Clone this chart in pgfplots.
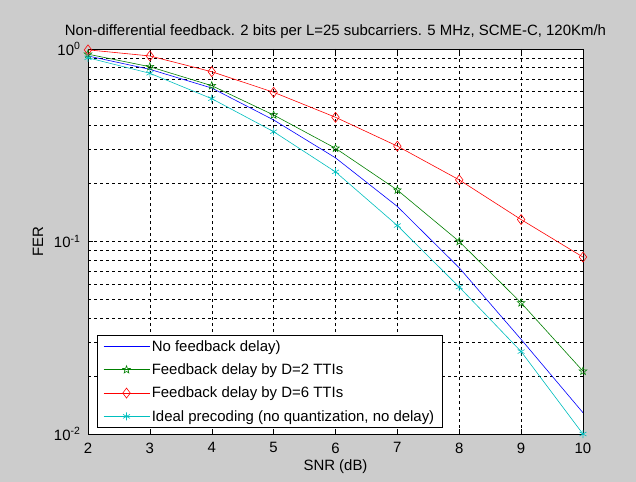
\documentclass[border=0pt]{standalone}
\usepackage{fontspec}
\setmainfont{Liberation Sans}
\usepackage{pgfplots}
\pgfplotsset{compat=1.18}
\usetikzlibrary{plotmarks}

\definecolor{figgray}{gray}{0.8}
\definecolor{mgreen}{rgb}{0,0.5,0}
\definecolor{mcyan}{rgb}{0,0.75,0.75}

% outlined five-point star, like the matlab pentagram
\pgfdeclareplotmark{pentagram}{%
  \pgfpathmoveto{\pgfpointpolar{90}{\pgfplotmarksize}}%
  \pgfpathlineto{\pgfpointpolar{126}{0.42\pgfplotmarksize}}%
  \pgfpathlineto{\pgfpointpolar{162}{\pgfplotmarksize}}%
  \pgfpathlineto{\pgfpointpolar{198}{0.42\pgfplotmarksize}}%
  \pgfpathlineto{\pgfpointpolar{234}{\pgfplotmarksize}}%
  \pgfpathlineto{\pgfpointpolar{270}{0.42\pgfplotmarksize}}%
  \pgfpathlineto{\pgfpointpolar{306}{\pgfplotmarksize}}%
  \pgfpathlineto{\pgfpointpolar{342}{0.42\pgfplotmarksize}}%
  \pgfpathlineto{\pgfpointpolar{18}{\pgfplotmarksize}}%
  \pgfpathlineto{\pgfpointpolar{54}{0.42\pgfplotmarksize}}%
  \pgfpathclose\pgfusepathqstroke}

\newcommand{\mfont}{\fontsize{15}{17}\selectfont}

\begin{document}
\begin{tikzpicture}
\path[use as bounding box, fill=figgray] (0,0) rectangle (636bp,482bp);
\begin{semilogyaxis}[
    at={(88bp,48bp)}, anchor=south west,
    scale only axis,
    width=495bp, height=385bp,
    xmin=2, xmax=10, ymin=0.01, ymax=1,
    xtick={2,3,...,10},
    ytick={0.01,0.1,1},
    yticklabels={10\textsuperscript{-2},10\textsuperscript{-1},10\textsuperscript{0}},
    /pgf/number format/assume math mode=true,
    axis background/.style={fill=white},
    tick align=inside,
    major tick length=5bp, minor tick length=3bp,
    grid=both,
    major grid style={black, dash pattern=on 3bp off 3bp, line width=0.5pt},
    minor grid style={black, dash pattern=on 3bp off 3bp, line width=0.5pt},
    axis line style={black, line width=0.6pt},
    tick style={black, line width=0.5pt},
    tick label style={font=\mfont},
    xticklabel style={yshift=-5bp},
    yticklabel style={xshift=-4bp},
    label style={font=\mfont},
    title style={font=\mfont, yshift=1bp},
    title={Non-differential feedback. 2 bits per L=25 subcarriers. 5 MHz, SCME-C, 120Km/h},
    xlabel={SNR (dB)},
    ylabel={FER},
    xlabel style={yshift=0bp},
    ylabel style={yshift=4bp},
    legend cell align=left,
    legend style={at={(axis description cs:0.018,0.016)}, anchor=south west,
        draw=black, fill=white, font=\mfont,
        row sep=7bp, inner xsep=6bp, inner ysep=3bp},
    legend image code/.code={%
        \draw[mark repeat=2, mark phase=2] plot coordinates {(0bp,0bp) (23bp,0bp) (46bp,0bp)};},
    line width=0.6pt,
]

\addplot[blue, no marks] coordinates {
    (2,0.92) (3,0.784) (4,0.627) (5,0.428) (6,0.272)
    (7,0.152) (8,0.073) (9,0.031) (10,0.0129)
};
\addlegendentry{No feedback delay)}

\addplot[mgreen, mark=pentagram, mark size=4bp, mark options={solid}] coordinates {
    (2,0.94) (3,0.809) (4,0.645) (5,0.454) (6,0.305)
    (7,0.185) (8,0.10) (9,0.048) (10,0.0212)
};
\addlegendentry{Feedback delay by D=2 TTIs}

\addplot[red, mark=diamond, mark size=5bp, mark options={solid}] coordinates {
    (2,0.99) (3,0.92) (4,0.762) (5,0.596) (6,0.442)
    (7,0.313) (8,0.209) (9,0.130) (10,0.083)
};
\addlegendentry{Feedback delay by D=6 TTIs}

\addplot[mcyan, mark=asterisk, mark size=4bp, mark options={solid}] coordinates {
    (2,0.90) (3,0.748) (4,0.552) (5,0.372) (6,0.23)
    (7,0.121) (8,0.058) (9,0.0268) (10,0.0100)
};
\addlegendentry{Ideal precoding (no quantization, no delay)}

\end{semilogyaxis}
\end{tikzpicture}
\end{document}
